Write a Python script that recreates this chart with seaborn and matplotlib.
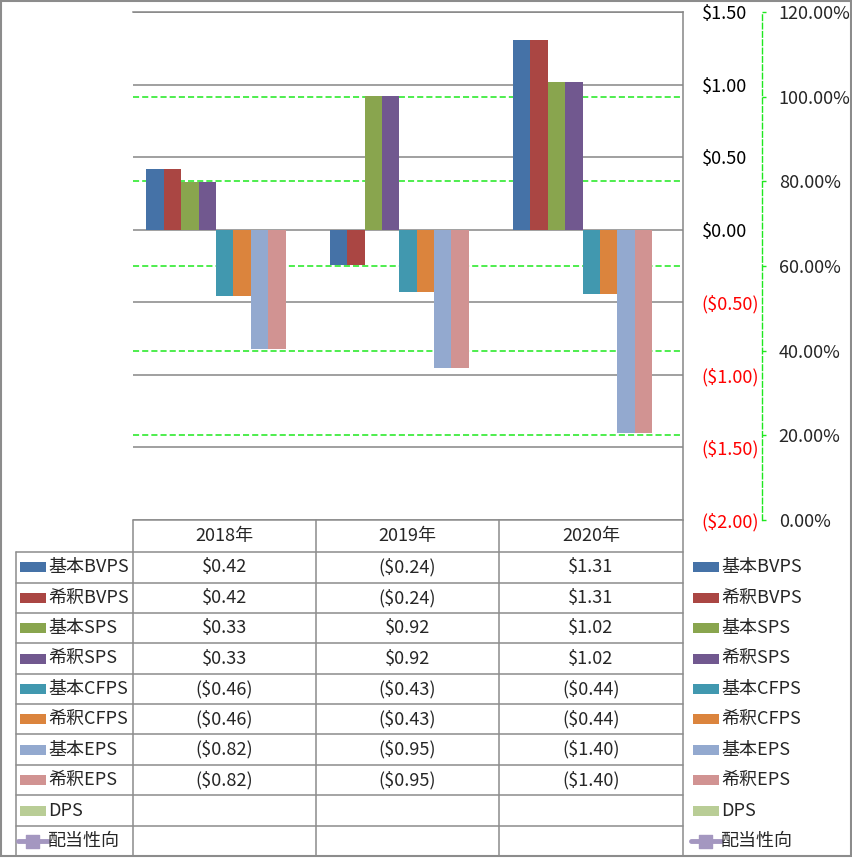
import numpy as np
import pandas as pd
import matplotlib
matplotlib.use("Agg")
import matplotlib.pyplot as plt
from matplotlib.ticker import FuncFormatter
from matplotlib.patches import Rectangle
from matplotlib.lines import Line2D
import seaborn as sns

# ---- data ----
years = ["2018年", "2019年", "2020年"]
series = ["基本BVPS", "希釈BVPS", "基本SPS", "希釈SPS", "基本CFPS", "希釈CFPS",
          "基本EPS", "希釈EPS", "DPS"]
line_series = "配当性向"
basic_bvps = [0.42, -0.24, 1.31]
dil_bvps = [0.42, -0.24, 1.31]
basic_sps = [0.33, 0.92, 1.02]
dil_sps = [0.33, 0.92, 1.02]
basic_cfps = [-0.46, -0.43, -0.44]
dil_cfps = [-0.46, -0.43, -0.44]
basic_eps = [-0.82, -0.95, -1.40]
dil_eps = [-0.82, -0.95, -1.40]
dps = [np.nan, np.nan, np.nan]
payout = [np.nan, np.nan, np.nan]
values = [basic_bvps, dil_bvps, basic_sps, dil_sps, basic_cfps, dil_cfps,
          basic_eps, dil_eps, dps]
primary_ticks = [-2.0, -1.5, -1.0, -0.5, 0.0, 0.5, 1.0, 1.5]
pct_ticks = [0.0, 0.2, 0.4, 0.6, 0.8, 1.0, 1.2]
colors = ["#4572A7", "#AA4643", "#89A54E", "#71588F", "#4198AF", "#DB843D",
          "#93A9CF", "#D19392", "#B9CD96"]
line_color = "#A497C0"

rows = []
for s, vals in zip(series, values):
    for y, v in zip(years, vals):
        rows.append({"year": y, "series": s, "value": v})
df = pd.DataFrame(rows)

sns.set_style("white")
plt.rcParams["font.family"] = ["Noto Sans CJK JP", "DejaVu Sans"]

W, H = 853, 858
fig = plt.figure(figsize=(W / 100, H / 100), dpi=100)
fig.patch.set_facecolor("white")


def rect(l, t, r, b):
    return [l / W, 1 - b / H, (r - l) / W, (b - t) / H]


PL, PT, PR, PB = 133, 12, 683, 520
ax = fig.add_axes(rect(PL, PT, PR, PB))
ax2 = ax.twinx()
ax2.set_zorder(ax.get_zorder() - 1)
ax.patch.set_visible(False)
ax2.patch.set_visible(False)

green = "#1EE81E"
grid_gray = "#868686"
fs = 13

sns.barplot(data=df, x="year", y="value", hue="series", hue_order=series,
            order=years, palette=colors, width=0.854, ax=ax, legend=False,
            saturation=1, linewidth=0, errorbar=None)

ax.set_xlim(-0.5, 2.5)
ax.set_ylim(-2.0, 1.5)
ax.set_yticks(primary_ticks)
ax.set_axisbelow(True)
ax.grid(axis="y", color=grid_gray, lw=1.1)
ax.grid(axis="x", visible=False)
ax.set_xticks([])
ax.set_xlabel("")
ax.set_ylabel("")
for sp in ["left", "bottom"]:
    ax.spines[sp].set_visible(False)
for sp in ["top", "right"]:
    ax.spines[sp].set_visible(True)
    ax.spines[sp].set_color(grid_gray)
    ax.spines[sp].set_linewidth(1.1)
ax.yaxis.tick_right()
ax.tick_params(axis="y", length=0, pad=13.5, labelsize=fs)


def money(v, pos=None):
    if v < 0:
        return f"(${abs(v):.2f})"
    return f"${v:.2f}"


ax.yaxis.set_major_formatter(FuncFormatter(money))
for lbl in ax.get_yticklabels():
    lbl.set_horizontalalignment("left")
fig.canvas.draw()
for t, lbl in zip(ax.get_yticks(), ax.get_yticklabels()):
    lbl.set_color("#FF0000" if t < 0 else "black")

# secondary axis
ax2.set_ylim(0, 1.2)
ax2.set_yticks(pct_ticks)
ax2.yaxis.set_major_formatter(FuncFormatter(lambda v, p: f"{v * 100:.2f}%"))
for sp in ["left", "top", "bottom"]:
    ax2.spines[sp].set_visible(False)
ax2.spines["right"].set_position(("axes", (762 - PL) / (PR - PL)))
ax2.spines["right"].set_color(green)
ax2.spines["right"].set_linestyle((0, (4, 2)))
ax2.spines["right"].set_linewidth(1.0)
ax2.tick_params(axis="y", length=3, width=1, color=green, pad=9, labelsize=fs)
ax2.grid(False)
for p in pct_ticks[1:-1]:
    ax2.axhline(p, color=green, lw=1.1, ls=(0, (4, 2)))

# ---- data table ----
tab = fig.add_axes([0, 0, 1, 1], zorder=10)
tab.set_xlim(0, W)
tab.set_ylim(H, 0)
tab.axis("off")
tab.patch.set_visible(False)

lc = "#8C8C8C"
col_x = [133, 316, 499, 683]
row_y = [520, 552, 582.5, 613, 643, 674, 704, 734, 765, 795, 826, 856]
LEFT = 16

# horizontal lines
tab.plot([PL, PR], [row_y[0], row_y[0]], color=lc, lw=1.1)
for y in row_y[1:-1]:
    tab.plot([LEFT, PR], [y, y], color=lc, lw=1.1)
# vertical lines
tab.plot([LEFT, LEFT], [row_y[1], row_y[-1]], color=lc, lw=1.1)
for x in col_x[:-1]:
    tab.plot([x, x], [row_y[0], row_y[-1]], color=lc, lw=1.1)
tab.plot([PR, PR], [PB, row_y[-1]], color=lc, lw=1.1)

# header
for i, yr in enumerate(years):
    cx = (col_x[i] + col_x[i + 1]) / 2
    tab.text(cx, (row_y[0] + row_y[1]) / 2, yr, ha="center", va="center", fontsize=fs)

all_names = series + [line_series]
all_vals = values + [payout]
for r, (name, vals) in enumerate(zip(all_names, all_vals)):
    y0, y1 = row_y[r + 1], row_y[r + 2]
    cy = (y0 + y1) / 2
    for lx, tx in [(20, 48), (693, 721)]:
        if name == line_series:
            tab.add_line(Line2D([lx - 2, lx + 28], [cy, cy], color=line_color, lw=3.5,
                                solid_capstyle="round"))
            tab.add_patch(Rectangle((lx + 6, cy - 6.5), 13, 13, color=line_color,
                                    joinstyle="round"))
        else:
            tab.add_patch(Rectangle((lx, cy - 5), 26, 10, color=colors[r], lw=0))
        tab.text(tx, cy, name, ha="left", va="center", fontsize=fs)
    for i, v in enumerate(vals):
        if v is None or (isinstance(v, float) and np.isnan(v)):
            continue
        cx = (col_x[i] + col_x[i + 1]) / 2
        tab.text(cx, cy, money(v), ha="center", va="center", fontsize=fs)

# outer frame
tab.add_patch(Rectangle((1, 1), W - 3, H - 3, fill=False, edgecolor=lc, lw=1.5))

fig.savefig("out.png", dpi=100, facecolor="white")
